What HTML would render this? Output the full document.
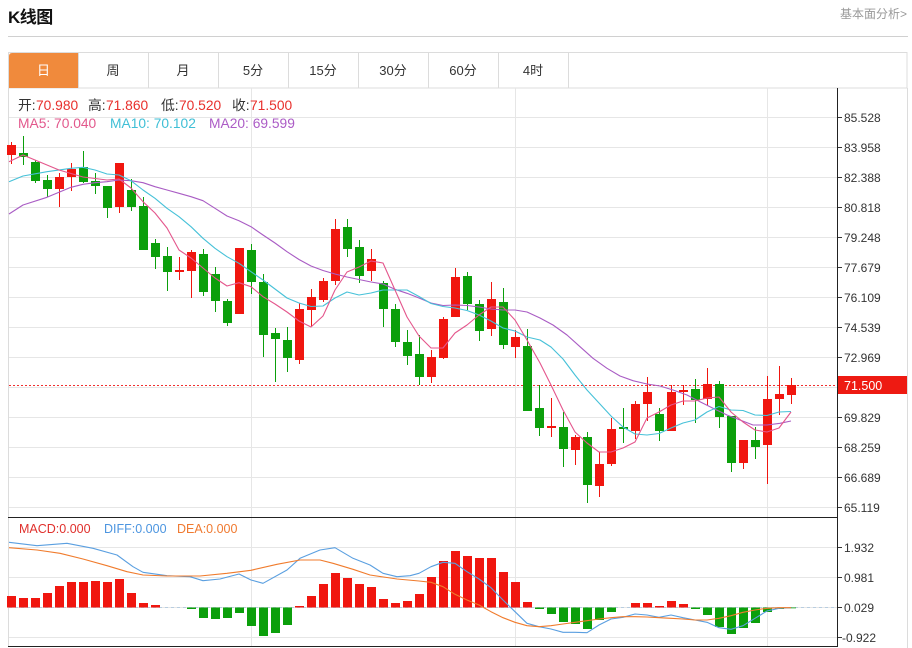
<!DOCTYPE html>
<html>
<head>
<meta charset="utf-8">
<style>
html,body{margin:0;padding:0;background:#fff;}
body{width:912px;height:648px;overflow:hidden;}
svg{display:block;font-family:"Liberation Sans","Noto Sans CJK SC",sans-serif;}
.r{fill:#f0160f;}
.g{fill:#0b9f0b;}
.ax{font-size:12px;fill:#333;}
</style>
</head>
<body>
<svg width="912" height="648" viewBox="0 0 912 648" xmlns="http://www.w3.org/2000/svg">
<!-- header -->
<text x="8" y="23" font-size="17" font-weight="bold" fill="#111" letter-spacing="-0.5">K线图</text>
<text x="907" y="18" font-size="12" fill="#999" text-anchor="end">基本面分析&gt;</text>
<rect x="8" y="36" width="900" height="1" fill="#d0d0d0"/>

<!-- tabs -->
<rect x="8.5" y="52.5" width="898.5" height="35.5" fill="#fff" stroke="#dcdcdc" stroke-width="1"/>
<path d="M9 88 V56 Q9 53 12 53 H78 V88 Z" fill="#f08a3c"/>
<g fill="#dcdcdc">
<rect x="78" y="52" width="1" height="36"/>
<rect x="148" y="52" width="1" height="36"/>
<rect x="218" y="52" width="1" height="36"/>
<rect x="288" y="52" width="1" height="36"/>
<rect x="358" y="52" width="1" height="36"/>
<rect x="428" y="52" width="1" height="36"/>
<rect x="498" y="52" width="1" height="36"/>
<rect x="568" y="52" width="1" height="36"/>
</g>
<g font-size="13" text-anchor="middle" fill="#333">
<text x="43.5" y="75" fill="#fff">日</text>
<text x="113" y="75">周</text>
<text x="183" y="75">月</text>
<text x="253" y="75">5分</text>
<text x="323" y="75">15分</text>
<text x="393" y="75">30分</text>
<text x="463" y="75">60分</text>
<text x="533" y="75">4时</text>
</g>

<!-- chart frame -->
<rect x="8" y="88" width="1" height="559" fill="#dcdcdc"/>
<rect x="907" y="88" width="1" height="560" fill="#dcdcdc"/>

<!-- horizontal grid price -->
<g fill="#e6e6e6">
<rect x="9" y="117" width="828" height="1"/>
<rect x="9" y="147" width="828" height="1"/>
<rect x="9" y="177" width="828" height="1"/>
<rect x="9" y="207" width="828" height="1"/>
<rect x="9" y="237" width="828" height="1"/>
<rect x="9" y="267" width="828" height="1"/>
<rect x="9" y="297" width="828" height="1"/>
<rect x="9" y="327" width="828" height="1"/>
<rect x="9" y="357" width="828" height="1"/>
<rect x="9" y="387" width="828" height="1"/>
<rect x="9" y="417" width="828" height="1"/>
<rect x="9" y="447" width="828" height="1"/>
<rect x="9" y="477" width="828" height="1"/>
<rect x="9" y="507" width="828" height="1"/>
<!-- macd grid -->
<rect x="9" y="547" width="828" height="1"/>
<rect x="9" y="577" width="828" height="1"/>
<rect x="9" y="607" width="828" height="1"/>
<rect x="9" y="637" width="828" height="1"/>
<!-- vertical grid -->
<rect x="251" y="88" width="1" height="559"/>
<rect x="515" y="88" width="1" height="559"/>
<rect x="767" y="88" width="1" height="559"/>
</g>

<!-- legend -->
<g font-size="13.8">
<text y="110"><tspan x="18" fill="#333">开:</tspan><tspan x="36" fill="#e8302c">70.980</tspan><tspan x="88" fill="#333">高:</tspan><tspan x="106" fill="#e8302c">71.860</tspan><tspan x="161" fill="#333">低:</tspan><tspan x="179" fill="#e8302c">70.520</tspan><tspan x="232" fill="#333">收:</tspan><tspan x="250" fill="#e8302c">71.500</tspan></text>
<text y="128"><tspan x="18" fill="#e2588c">MA5: 70.040</tspan><tspan x="110" fill="#3fbfd6">MA10: 70.102</tspan><tspan x="209" fill="#ac5cc6">MA20: 69.599</tspan></text>
</g>

<!-- current price dashed line -->
<line x1="9" y1="385.5" x2="837" y2="385.5" stroke="#f03030" stroke-width="1" stroke-dasharray="2,2"/>

<!-- candles -->
<g>
<rect class="r" x="11" y="142" width="1" height="22"/><rect class="r" x="7" y="145" width="9" height="10"/>
<rect class="g" x="23" y="136" width="1" height="29"/><rect class="g" x="19" y="153" width="9" height="4"/>
<rect class="g" x="35" y="160" width="1" height="23"/><rect class="g" x="31" y="162" width="9" height="19"/>
<rect class="g" x="47" y="175" width="1" height="22"/><rect class="g" x="43" y="180" width="9" height="9"/>
<rect class="r" x="59" y="173" width="1" height="34"/><rect class="r" x="55" y="177" width="9" height="12"/>
<rect class="r" x="71" y="163" width="1" height="28"/><rect class="r" x="67" y="169" width="9" height="8"/>
<rect class="g" x="83" y="151" width="1" height="32"/><rect class="g" x="79" y="167" width="9" height="15"/>
<rect class="g" x="95" y="173" width="1" height="21"/><rect class="g" x="91" y="181" width="9" height="5"/>
<rect class="g" x="107" y="186" width="1" height="32"/><rect class="g" x="103" y="186" width="9" height="22"/>
<rect class="r" x="119" y="163" width="1" height="50"/><rect class="r" x="115" y="163" width="9" height="44"/>
<rect class="g" x="131" y="179" width="1" height="32"/><rect class="g" x="127" y="190" width="9" height="17"/>
<rect class="g" x="143" y="197" width="1" height="53"/><rect class="g" x="139" y="206" width="9" height="44"/>
<rect class="g" x="155" y="239" width="1" height="30"/><rect class="g" x="151" y="243" width="9" height="14"/>
<rect class="g" x="167" y="247" width="1" height="44"/><rect class="g" x="163" y="256" width="9" height="16"/>
<rect class="r" x="179" y="257" width="1" height="23"/><rect class="r" x="175" y="270" width="9" height="2"/>
<rect class="r" x="191" y="250" width="1" height="48"/><rect class="r" x="187" y="252" width="9" height="19"/>
<rect class="g" x="203" y="249" width="1" height="47"/><rect class="g" x="199" y="254" width="9" height="38"/>
<rect class="g" x="215" y="267" width="1" height="45"/><rect class="g" x="211" y="274" width="9" height="27"/>
<rect class="g" x="227" y="299" width="1" height="27"/><rect class="g" x="223" y="301" width="9" height="22"/>
<rect class="r" x="239" y="248" width="1" height="66"/><rect class="r" x="235" y="248" width="9" height="66"/>
<rect class="g" x="251" y="244" width="1" height="50"/><rect class="g" x="247" y="250" width="9" height="32"/>
<rect class="g" x="263" y="274" width="1" height="83"/><rect class="g" x="259" y="282" width="9" height="53"/>
<rect class="g" x="275" y="328" width="1" height="54"/><rect class="g" x="271" y="333" width="9" height="6"/>
<rect class="g" x="287" y="327" width="1" height="45"/><rect class="g" x="283" y="340" width="9" height="18"/>
<rect class="r" x="299" y="303" width="1" height="61"/><rect class="r" x="295" y="309" width="9" height="51"/>
<rect class="r" x="311" y="289" width="1" height="37"/><rect class="r" x="307" y="297" width="9" height="13"/>
<rect class="r" x="323" y="278" width="1" height="24"/><rect class="r" x="319" y="281" width="9" height="19"/>
<rect class="r" x="335" y="219" width="1" height="66"/><rect class="r" x="331" y="229" width="9" height="52"/>
<rect class="g" x="347" y="219" width="1" height="38"/><rect class="g" x="343" y="227" width="9" height="22"/>
<rect class="g" x="359" y="240" width="1" height="43"/><rect class="g" x="355" y="247" width="9" height="29"/>
<rect class="r" x="371" y="249" width="1" height="32"/><rect class="r" x="367" y="259" width="9" height="12"/>
<rect class="g" x="383" y="281" width="1" height="46"/><rect class="g" x="379" y="283" width="9" height="26"/>
<rect class="g" x="395" y="304" width="1" height="43"/><rect class="g" x="391" y="309" width="9" height="33"/>
<rect class="g" x="407" y="330" width="1" height="35"/><rect class="g" x="403" y="342" width="9" height="14"/>
<rect class="g" x="419" y="335" width="1" height="50"/><rect class="g" x="415" y="354" width="9" height="23"/>
<rect class="r" x="431" y="350" width="1" height="33"/><rect class="r" x="427" y="357" width="9" height="20"/>
<rect class="r" x="443" y="317" width="1" height="42"/><rect class="r" x="439" y="319" width="9" height="39"/>
<rect class="r" x="455" y="268" width="1" height="49"/><rect class="r" x="451" y="277" width="9" height="40"/>
<rect class="g" x="467" y="272" width="1" height="38"/><rect class="g" x="463" y="276" width="9" height="28"/>
<rect class="g" x="479" y="300" width="1" height="41"/><rect class="g" x="475" y="304" width="9" height="27"/>
<rect class="r" x="491" y="282" width="1" height="54"/><rect class="r" x="487" y="299" width="9" height="30"/>
<rect class="g" x="503" y="288" width="1" height="61"/><rect class="g" x="499" y="302" width="9" height="43"/>
<rect class="r" x="515" y="330" width="1" height="28"/><rect class="r" x="511" y="337" width="9" height="10"/>
<rect class="g" x="527" y="329" width="1" height="82"/><rect class="g" x="523" y="346" width="9" height="65"/>
<rect class="g" x="539" y="385" width="1" height="51"/><rect class="g" x="535" y="408" width="9" height="20"/>
<rect class="r" x="551" y="398" width="1" height="39"/><rect class="r" x="547" y="426" width="9" height="2"/>
<rect class="g" x="563" y="412" width="1" height="55"/><rect class="g" x="559" y="427" width="9" height="22"/>
<rect class="r" x="575" y="435" width="1" height="30"/><rect class="r" x="571" y="437" width="9" height="13"/>
<rect class="g" x="587" y="432" width="1" height="71"/><rect class="g" x="583" y="437" width="9" height="48"/>
<rect class="r" x="599" y="452" width="1" height="45"/><rect class="r" x="595" y="464" width="9" height="22"/>
<rect class="r" x="611" y="418" width="1" height="48"/><rect class="r" x="607" y="429" width="9" height="35"/>
<rect class="g" x="623" y="408" width="1" height="35"/><rect class="g" x="619" y="427" width="9" height="2"/>
<rect class="r" x="635" y="401" width="1" height="38"/><rect class="r" x="631" y="404" width="9" height="27"/>
<rect class="r" x="647" y="377" width="1" height="44"/><rect class="r" x="643" y="392" width="9" height="12"/>
<rect class="g" x="659" y="408" width="1" height="33"/><rect class="g" x="655" y="414" width="9" height="17"/>
<rect class="r" x="671" y="385" width="1" height="46"/><rect class="r" x="667" y="392" width="9" height="39"/>
<rect class="r" x="683" y="385" width="1" height="20"/><rect class="r" x="679" y="390" width="9" height="2"/>
<rect class="g" x="695" y="379" width="1" height="44"/><rect class="g" x="691" y="389" width="9" height="11"/>
<rect class="r" x="707" y="368" width="1" height="37"/><rect class="r" x="703" y="384" width="9" height="15"/>
<rect class="g" x="719" y="381" width="1" height="47"/><rect class="g" x="715" y="384" width="9" height="33"/>
<rect class="g" x="731" y="416" width="1" height="56"/><rect class="g" x="727" y="416" width="9" height="47"/>
<rect class="r" x="743" y="440" width="1" height="29"/><rect class="r" x="739" y="440" width="9" height="23"/>
<rect class="g" x="755" y="427" width="1" height="32"/><rect class="g" x="751" y="440" width="9" height="7"/>
<rect class="r" x="767" y="376" width="1" height="108"/><rect class="r" x="763" y="399" width="9" height="46"/>
<rect class="r" x="779" y="366" width="1" height="49"/><rect class="r" x="775" y="394" width="9" height="5"/>
<rect class="r" x="791" y="378" width="1" height="26"/><rect class="r" x="787" y="385" width="9" height="10"/>
</g>

<!-- MA lines -->
<g fill="none" stroke-width="1.1" stroke-linejoin="round">
<polyline stroke="#a95cc4" points="9,214 23,205 47,197.3 71,187.3 83,184.3 95,182.7 107,181.7 119,180 131,180.7 143,182.7 155,186.7 167,190 179,193.3 191,196.7 203,200.7 215,208.3 227,216 239,220.7 251,226.7 263,235 275,243 287,251.7 299,259.5 311,266 323,270.5 335,274 347,277 359,279.5 371,282 383,284 395,289.3 407,293.3 419,298 431,303 443,305.5 455,305 467,305.5 479,307 491,309 503,310 515,310 527,312 540,318 553,325 567,335 580,346.7 593,358.3 607,368.3 620,376 633,380.7 647,384 660,386 673,390 687,395 700,401.7 713,408.3 727,415 740,420 753,425 767,425 780,423.3 791,421"/>
<polyline stroke="#46c1d8" points="9,181.7 23,176 47,171.7 71,168.3 83,167.3 95,170 107,174 119,175 131,180.7 143,190 155,198.3 167,208.3 179,216.7 191,226.7 203,238.3 215,248.3 227,256.7 239,263.3 251,271.7 263,280 275,289 287,298 299,303 311,306.5 323,306 335,298 347,292 359,295 371,293 383,290 395,290 407,290 419,296.5 431,303.5 443,306.5 455,308 467,310.5 479,315 491,321 503,328 515,331 527,337 540,340 551,347 563,359 575,375 587,390 599,403 611,416 623,427 635,434 647,435 659,433.5 671,428 683,423 695,420 707,412 719,406.5 731,410 743,410.5 755,415 767,415.5 779,412 791,411.5"/>
<polyline stroke="#e4568c" points="9,161.7 23,155 35,160 59,170 83,177 107,180 119,179 131,188 143,201.7 155,213 167,228 179,250 191,258 203,268 215,278 227,286 239,282.7 251,286.7 263,296.7 275,304 287,312 299,321 311,327 323,316 335,290 347,272 359,267 371,261 383,263 395,290 407,317 419,336 431,348 443,348 455,333 467,325 479,315 491,307 503,307 515,320 527,340 540,363 551,385 563,410 575,432 587,443 599,452 611,452 623,448 635,442 647,418 659,412 671,405 683,401 695,401 707,398 719,397 731,412 743,422 755,430 767,432 779,428 791,412"/>
</g>

<!-- MACD panel -->
<rect x="8" y="517" width="829" height="1" fill="#222"/>
<rect x="8" y="646" width="829" height="1" fill="#222"/>
<line x1="9" y1="607.5" x2="837" y2="607.5" stroke="#b8cde0" stroke-width="1" stroke-dasharray="3,3"/>
<g font-size="12.5">
<text x="19" y="533" fill="#e0302c">MACD:0.000</text>
<text x="104" y="533" fill="#4c95e0">DIFF:0.000</text>
<text x="177" y="533" fill="#f07a30">DEA:0.000</text>
</g>
<g>
<rect class="r" x="7" y="596" width="9" height="11.5"/>
<rect class="r" x="19" y="598" width="9" height="9.5"/>
<rect class="r" x="31" y="598" width="9" height="9.5"/>
<rect class="r" x="43" y="593" width="9" height="14.5"/>
<rect class="r" x="55" y="586" width="9" height="21.5"/>
<rect class="r" x="67" y="582" width="9" height="25.5"/>
<rect class="r" x="79" y="582" width="9" height="25.5"/>
<rect class="r" x="91" y="581" width="9" height="26.5"/>
<rect class="r" x="103" y="582" width="9" height="25.5"/>
<rect class="r" x="115" y="579" width="9" height="28.5"/>
<rect class="r" x="127" y="593" width="9" height="14.5"/>
<rect class="r" x="139" y="603" width="9" height="4.5"/>
<rect class="r" x="151" y="605" width="9" height="2.5"/>
<rect class="g" x="187" y="607.5" width="9" height="1.5"/>
<rect class="g" x="199" y="607.5" width="9" height="10.5"/>
<rect class="g" x="211" y="607.5" width="9" height="11.5"/>
<rect class="g" x="223" y="607.5" width="9" height="10.5"/>
<rect class="g" x="235" y="607.5" width="9" height="5.5"/>
<rect class="g" x="247" y="607.5" width="9" height="18.5"/>
<rect class="g" x="259" y="607.5" width="9" height="28.5"/>
<rect class="g" x="271" y="607.5" width="9" height="25.5"/>
<rect class="g" x="283" y="607.5" width="9" height="17.5"/>
<rect class="r" x="295" y="606" width="9" height="1.5"/>
<rect class="r" x="307" y="596" width="9" height="11.5"/>
<rect class="r" x="319" y="584" width="9" height="23.5"/>
<rect class="r" x="331" y="573" width="9" height="34.5"/>
<rect class="r" x="343" y="578" width="9" height="29.5"/>
<rect class="r" x="355" y="584" width="9" height="23.5"/>
<rect class="r" x="367" y="587" width="9" height="20.5"/>
<rect class="r" x="379" y="599" width="9" height="8.5"/>
<rect class="r" x="391" y="603" width="9" height="4.5"/>
<rect class="r" x="403" y="601" width="9" height="6.5"/>
<rect class="r" x="415" y="594" width="9" height="13.5"/>
<rect class="r" x="427" y="577" width="9" height="30.5"/>
<rect class="r" x="439" y="561" width="9" height="46.5"/>
<rect class="r" x="451" y="551" width="9" height="56.5"/>
<rect class="r" x="463" y="556" width="9" height="51.5"/>
<rect class="r" x="475" y="558" width="9" height="49.5"/>
<rect class="r" x="487" y="558" width="9" height="49.5"/>
<rect class="r" x="499" y="572" width="9" height="35.5"/>
<rect class="r" x="511" y="582" width="9" height="25.5"/>
<rect class="r" x="523" y="602" width="9" height="5.5"/>
<rect class="g" x="535" y="607.5" width="9" height="1.5"/>
<rect class="g" x="547" y="607.5" width="9" height="6.5"/>
<rect class="g" x="559" y="607.5" width="9" height="14.5"/>
<rect class="g" x="571" y="607.5" width="9" height="16.5"/>
<rect class="g" x="583" y="607.5" width="9" height="21.5"/>
<rect class="g" x="595" y="607.5" width="9" height="12.5"/>
<rect class="g" x="607" y="607.5" width="9" height="4.5"/>
<rect class="r" x="631" y="603" width="9" height="4.5"/>
<rect class="r" x="643" y="603" width="9" height="4.5"/>
<rect class="r" x="655" y="606" width="9" height="1.5"/>
<rect class="r" x="667" y="601" width="9" height="6.5"/>
<rect class="r" x="679" y="604" width="9" height="3.5"/>
<rect class="g" x="691" y="607.5" width="9" height="1.5"/>
<rect class="g" x="703" y="607.5" width="9" height="7.5"/>
<rect class="g" x="715" y="607.5" width="9" height="19.5"/>
<rect class="g" x="727" y="607.5" width="9" height="26.5"/>
<rect class="g" x="739" y="607.5" width="9" height="20.5"/>
<rect class="g" x="751" y="607.5" width="9" height="15.5"/>
<rect class="g" x="763" y="607.5" width="9" height="4.5"/>
<rect class="g" x="775" y="607.5" width="9" height="1.5"/>
<rect class="g" x="787" y="607.5" width="9" height="0.8"/>
</g>
<g fill="none" stroke-width="1.1" stroke-linejoin="round">
<polyline stroke="#5a9fe0" points="9,542.3 37,545.7 67,543.3 93,548.3 117,555 133,566.7 143,572.3 167,575.7 190,576.7 203,580.7 220,579 239,574 251,580 263,583.3 287,570 300,558.3 320,550 335,547.7 353,558.3 370,565 383,573.3 397,576.7 410,575.7 419,573.3 431,566.7 443,562.3 455,563.3 467,571.7 479,579 491,587.7 503,600 515,611.7 527,623.3 539,626.7 551,629 563,632.3 575,632.3 587,632.7 599,625 611,619 623,617.3 635,614 647,615 659,617.3 671,615 683,617.7 695,620 707,622.3 719,627.7 731,629.3 743,625.7 755,618.3 767,611 779,608.3 791,607.7"/>
<polyline stroke="#f07b2c" points="9,547.7 37,550 60,553.3 83,559 107,565.7 127,571.7 143,575 167,576 200,576 227,573.3 251,570.3 277,564.3 300,560 320,560 333,563.3 353,569.3 370,575 397,579 419,581 431,582.3 443,586.7 455,594.3 467,600 479,605 491,611.7 503,617.7 515,622.3 527,625.7 539,626.7 551,625.7 563,624 575,622.3 587,620.7 599,619 611,617.7 623,616.7 635,616.7 647,617 659,617.7 671,618.3 683,619 695,620 707,620 719,618.3 731,615.7 743,612.3 755,610 767,608.3 779,607.7 791,607.7"/>
</g>

<!-- right axis -->
<rect x="837" y="88" width="1" height="559" fill="#222"/>
<g fill="#333">
<rect x="838" y="117" width="4" height="1"/>
<rect x="838" y="147" width="4" height="1"/>
<rect x="838" y="177" width="4" height="1"/>
<rect x="838" y="207" width="4" height="1"/>
<rect x="838" y="237" width="4" height="1"/>
<rect x="838" y="267" width="4" height="1"/>
<rect x="838" y="297" width="4" height="1"/>
<rect x="838" y="327" width="4" height="1"/>
<rect x="838" y="357" width="4" height="1"/>
<rect x="838" y="417" width="4" height="1"/>
<rect x="838" y="447" width="4" height="1"/>
<rect x="838" y="477" width="4" height="1"/>
<rect x="838" y="507" width="4" height="1"/>
<rect x="838" y="547" width="4" height="1"/>
<rect x="838" y="577" width="4" height="1"/>
<rect x="838" y="607" width="4" height="1"/>
<rect x="838" y="637" width="4" height="1"/>
</g>
<g class="ax">
<text x="844" y="122">85.528</text>
<text x="844" y="152">83.958</text>
<text x="844" y="182">82.388</text>
<text x="844" y="212">80.818</text>
<text x="844" y="242">79.248</text>
<text x="844" y="272">77.679</text>
<text x="844" y="302">76.109</text>
<text x="844" y="332">74.539</text>
<text x="844" y="362">72.969</text>
<text x="844" y="422">69.829</text>
<text x="844" y="452">68.259</text>
<text x="844" y="482">66.689</text>
<text x="844" y="512">65.119</text>
<text x="844" y="552">1.932</text>
<text x="844" y="582">0.981</text>
<text x="844" y="612">0.029</text>
<text x="842" y="642">-0.922</text>
</g>
<rect x="838" y="376" width="69" height="18" fill="#ee1a12"/>
<text x="844" y="390" font-size="12.5" fill="#fff">71.500</text>
</svg>
</body>
</html>
